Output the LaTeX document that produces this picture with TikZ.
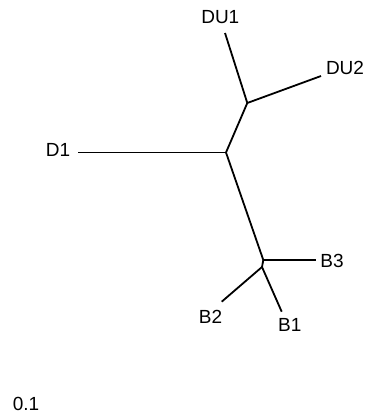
\documentclass[tikz,border=0pt]{standalone}
\usepackage{fontspec}
\setmainfont{Liberation Sans}
\begin{document}
\begin{tikzpicture}[x=1pt,y=-1pt,
  branch/.style={line width=1.8pt, line cap=butt},
  lbl/.style={inner sep=0pt, font=\fontsize{19}{19}\selectfont}]
\useasboundingbox (0,0) rectangle (369,420);
% internal nodes
\coordinate (c) at (226,152.5);
\coordinate (du) at (247.3,103);
\coordinate (b) at (263.3,260);
\coordinate (bb) at (262,267);
% leaf ends
\coordinate (du1) at (225,33);
\coordinate (du2) at (321,76);
\coordinate (d1) at (77.7,152.5);
\coordinate (b3) at (316,260);
\coordinate (b2) at (221.7,301.7);
\coordinate (b1) at (281.7,311.7);
% edges
\draw[branch] (c) -- (du);
\draw[branch] (du) -- (du1);
\draw[branch] (du) -- (du2);
\draw[branch] (c) -- (d1);
\draw[branch] (c) -- (b);
\draw[branch] (b) -- (b3);
\draw[branch] (b) -- (bb);
\draw[branch] (bb) -- (b2);
\draw[branch] (bb) -- (b1);
% labels
\node[lbl] (tdu1) at (220.3,17) {DU1};
\node[lbl] (tdu2) at (345,67.5) {DU2};
\node[lbl] (td1) at (58,150.3) {D1};
\node[lbl] (tb3) at (332,261) {B3};
\node[lbl] (tb2) at (210.5,317) {B2};
\node[lbl] (tb1) at (289.7,325.3) {B1};
\node[lbl] (scale) at (26,404) {0.1};
\end{tikzpicture}
\end{document}
